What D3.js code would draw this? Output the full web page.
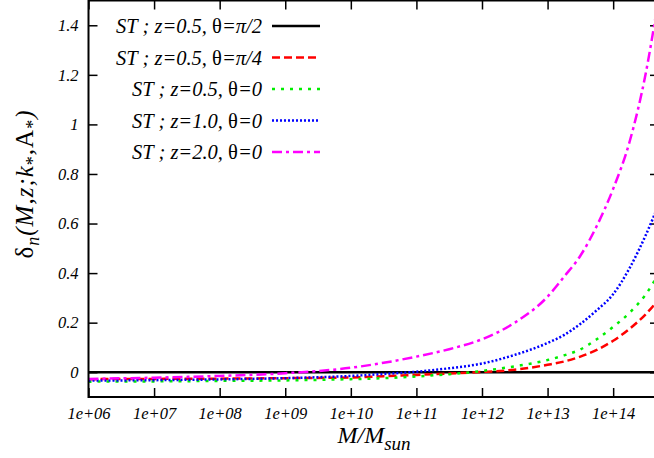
<!DOCTYPE html>
<html>
<head>
<meta charset="utf-8">
<script src="https://cdn.jsdelivr.net/npm/d3@7"></script>
<style>
  body { margin: 0; background: #fff; }
  text { font-family: "Liberation Serif", "DejaVu Serif", serif; }
</style>
</head>
<body>
<div id="chart"></div>
<script>
var width = 654, height = 458;
var plot = { left: 88.5, right: 659, top: 0.5, bottom: 397 };

var mass = [1e6, 1e7, 1e8, 1e9, 1e10, 3.16e10, 1e11, 3.16e11, 1e12, 3.16e12,
  1e13, 1.78e13, 3.16e13, 5.62e13, 1e14, 1.78e14, 3.16e14, 5e14];

var deltaPi2 = [0, 0, 0, 0, 0, 0, 0, 0, 0, 0, 0, 0, 0, 0, 0, 0, 0, 0];
var deltaPi4 = [-0.028, -0.027, -0.026, -0.024, -0.021, -0.016, -0.011, -0.005, 0.001, 0.01,
  0.03, 0.043, 0.063, 0.09, 0.127, 0.175, 0.235, 0.295];
var deltaZ05 = [-0.038, -0.037, -0.035, -0.033, -0.028, -0.024, -0.017, -0.008, 0.005, 0.024,
  0.049, 0.068, 0.092, 0.133, 0.183, 0.24, 0.315, 0.40];
var deltaZ10 = [-0.034, -0.032, -0.029, -0.024, -0.015, -0.007, 0.002, 0.016, 0.035, 0.07,
  0.118, 0.15, 0.195, 0.25, 0.315, 0.42, 0.555, 0.68];
var deltaZ20 = [-0.027, -0.022, -0.015, -0.004, 0.018, 0.038, 0.063, 0.093, 0.133, 0.2,
  0.305, 0.385, 0.47, 0.59, 0.74, 0.93, 1.21, 1.52];

var xTicks = [1e6, 1e7, 1e8, 1e9, 1e10, 1e11, 1e12, 1e13, 1e14];
var xTickLabels = ["1e+06", "1e+07", "1e+08", "1e+09", "1e+10", "1e+11", "1e+12", "1e+13", "1e+14"];
var yTicks = [0, 0.2, 0.4, 0.6, 0.8, 1, 1.2, 1.4];
var yTickLabels = ["0", "0.2", "0.4", "0.6", "0.8", "1", "1.2", "1.4"];

var series = [
  { z: "0.5", theta: "\u03c0/2", values: deltaPi2, color: "#000000", dash: null },
  { z: "0.5", theta: "\u03c0/4", values: deltaPi4, color: "#ff0000", dash: "8,4" },
  { z: "0.5", theta: "0", values: deltaZ05, color: "#00ee00", dash: "3,6" },
  { z: "1.0", theta: "0", values: deltaZ10, color: "#0000ff", dash: "2,2" },
  { z: "2.0", theta: "0", values: deltaZ20, color: "#ff00ff", dash: "10,4,3,4" }
];

var svg = d3.select("#chart")
  .append("svg")
  .attr("width", width)
  .attr("height", height);

var x = d3.scaleLog()
  .domain([1e6, 5e14])
  .range([plot.left, plot.right]);

var y = d3.scaleLinear()
  .domain([-0.1, 1.5])
  .range([plot.bottom, plot.top]);

svg.append("clipPath").attr("id", "clip")
  .append("rect")
  .attr("x", plot.left).attr("y", plot.top)
  .attr("width", plot.right - plot.left).attr("height", plot.bottom - plot.top);

// ticks, all pointing inwards
var tickLen = 9;
svg.append("g")
  .attr("transform", "translate(0," + plot.bottom + ")")
  .call(d3.axisBottom(x).tickValues(xTicks).tickSize(-tickLen).tickPadding(10)
    .tickFormat(function (d, i) { return xTickLabels[i]; }));
svg.append("g")
  .attr("transform", "translate(0," + plot.top + ")")
  .call(d3.axisTop(x).tickValues(xTicks).tickSize(-tickLen).tickFormat(""));
svg.append("g")
  .attr("transform", "translate(" + plot.left + ",0)")
  .call(d3.axisLeft(y).tickValues(yTicks).tickSize(-tickLen).tickPadding(10)
    .tickFormat(function (d, i) { return yTickLabels[i]; }));
svg.append("g")
  .attr("transform", "translate(" + plot.right + ",0)")
  .call(d3.axisRight(y).tickValues(yTicks).tickSize(-tickLen).tickFormat(""));

svg.selectAll(".domain").remove();
svg.selectAll(".tick line").attr("stroke", "#000").attr("stroke-width", 1.5);
svg.selectAll(".tick text")
  .attr("fill", "#000")
  .style("font-size", "16.5px")
  .style("font-style", "italic");

// curves
var line = d3.line()
  .x(function (d) { return x(d[0]); })
  .y(function (d) { return y(d[1]); })
  .curve(d3.curveMonotoneX);

var curves = svg.append("g").attr("clip-path", "url(#clip)");
series.forEach(function (s) {
  curves.append("path")
    .datum(mass.map(function (m, i) { return [m, s.values[i]]; }))
    .attr("fill", "none")
    .attr("stroke", s.color)
    .attr("stroke-width", 2.5)
    .attr("stroke-dasharray", s.dash)
    .attr("d", line);
});

// frame
svg.append("rect")
  .attr("x", plot.left).attr("y", plot.top)
  .attr("width", plot.right - plot.left).attr("height", plot.bottom - plot.top)
  .attr("fill", "none")
  .attr("stroke", "#000")
  .attr("stroke-width", 2);

// legend
var legend = svg.append("g");
series.forEach(function (s, i) {
  var ly = 26 + i * 31.5;
  var t = legend.append("text")
    .attr("x", 262).attr("y", ly + 7)
    .attr("text-anchor", "end")
    .style("font-size", "20.5px")
    .style("font-style", "italic");
  t.append("tspan").text("ST ; z=" + s.z + ", ");
  t.append("tspan").style("font-style", "normal").text("\u03b8");
  t.append("tspan").text("=" + s.theta);
  legend.append("line")
    .attr("x1", 272).attr("x2", 320)
    .attr("y1", ly).attr("y2", ly)
    .attr("stroke", s.color)
    .attr("stroke-width", 2.5)
    .attr("stroke-dasharray", s.dash);
});

// y label
var yl = svg.append("text")
  .attr("transform", "translate(33,184) rotate(-90)")
  .attr("text-anchor", "middle")
  .style("font-size", "25px")
  .style("letter-spacing", "1px")
  .style("font-style", "italic");
yl.append("tspan").style("font-style", "normal").text("\u03b4");
yl.append("tspan").attr("dy", 6).style("font-size", "18px").text("n");
yl.append("tspan").attr("dy", -6).text("(M,z;k");
yl.append("tspan").attr("dy", 6).style("font-size", "18px").style("font-style", "normal").text("*");
yl.append("tspan").attr("dy", -6).text(",");
yl.append("tspan").style("font-style", "normal").text("A");
yl.append("tspan").attr("dy", 6).style("font-size", "18px").style("font-style", "normal").text("*");
yl.append("tspan").attr("dy", -6).text(")");

// x label
var xl = svg.append("text")
  .attr("x", 374).attr("y", 443)
  .attr("text-anchor", "middle")
  .style("font-size", "24px")
  .style("font-style", "italic");
xl.append("tspan").text("M/M");
xl.append("tspan").attr("dy", 7).style("font-size", "19px").text("sun");
</script>
</body>
</html>
